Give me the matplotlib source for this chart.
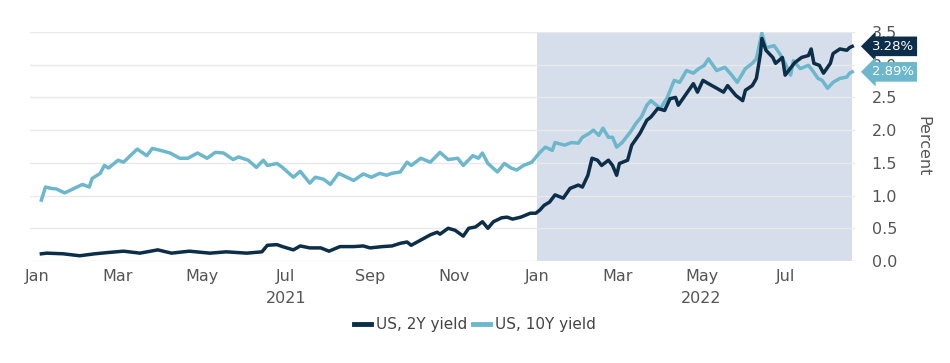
import pandas as pd
import matplotlib
matplotlib.use("Agg")
import matplotlib.pyplot as plt
import matplotlib.dates as mdates
import matplotlib.transforms as mtransforms

# US 10Y yield, percent
dates_10y = [
    "2021-01-04", "2021-01-07", "2021-01-11", "2021-01-15", "2021-01-21", "2021-01-27",
    "2021-02-03", "2021-02-08", "2021-02-10", "2021-02-16", "2021-02-19", "2021-02-22",
    "2021-03-01", "2021-03-05", "2021-03-10", "2021-03-15", "2021-03-22", "2021-03-26",
    "2021-04-01", "2021-04-08", "2021-04-15", "2021-04-21", "2021-04-28", "2021-05-05",
    "2021-05-11", "2021-05-17", "2021-05-24", "2021-05-28", "2021-06-04", "2021-06-10",
    "2021-06-15", "2021-06-18", "2021-06-25", "2021-06-29", "2021-07-07", "2021-07-12",
    "2021-07-19", "2021-07-23", "2021-07-29", "2021-08-03", "2021-08-09", "2021-08-16",
    "2021-08-20", "2021-08-27", "2021-09-02", "2021-09-08", "2021-09-13", "2021-09-17",
    "2021-09-23", "2021-09-28", "2021-10-01", "2021-10-08", "2021-10-15", "2021-10-22",
    "2021-10-28", "2021-11-04", "2021-11-08", "2021-11-15", "2021-11-19", "2021-11-22",
    "2021-11-26", "2021-12-03", "2021-12-08", "2021-12-13", "2021-12-17", "2021-12-22",
    "2021-12-28", "2022-01-03", "2022-01-07", "2022-01-12", "2022-01-14", "2022-01-21",
    "2022-01-26", "2022-01-31", "2022-02-03", "2022-02-08", "2022-02-11", "2022-02-15",
    "2022-02-18", "2022-02-22", "2022-02-25", "2022-02-28", "2022-03-04", "2022-03-10",
    "2022-03-14", "2022-03-18", "2022-03-22", "2022-03-25", "2022-04-01", "2022-04-06",
    "2022-04-11", "2022-04-15", "2022-04-20", "2022-04-25", "2022-04-29", "2022-05-03",
    "2022-05-06", "2022-05-12", "2022-05-18", "2022-05-23", "2022-05-27", "2022-06-02",
    "2022-06-07", "2022-06-10", "2022-06-14", "2022-06-17", "2022-06-23", "2022-06-27",
    "2022-07-01", "2022-07-05", "2022-07-07", "2022-07-12", "2022-07-18", "2022-07-21",
    "2022-07-25", "2022-07-28", "2022-08-01", "2022-08-05", "2022-08-10", "2022-08-15",
    "2022-08-17", "2022-08-19",
]
yield_10y = [
    0.93, 1.13, 1.11, 1.10, 1.04, 1.10,
    1.17, 1.13, 1.26, 1.34, 1.46, 1.42,
    1.54, 1.51, 1.61, 1.71, 1.61, 1.72,
    1.69, 1.65, 1.57, 1.57, 1.65, 1.57,
    1.66, 1.65, 1.55, 1.59, 1.54, 1.43,
    1.54, 1.46, 1.49, 1.43, 1.28, 1.37,
    1.19, 1.28, 1.25, 1.17, 1.34, 1.27,
    1.23, 1.33, 1.28, 1.34, 1.31, 1.34,
    1.36, 1.51, 1.46, 1.57, 1.51, 1.66,
    1.55, 1.57, 1.46, 1.61, 1.57, 1.65,
    1.49, 1.36, 1.49, 1.42, 1.39, 1.46,
    1.51, 1.66, 1.74, 1.69, 1.81, 1.77,
    1.81, 1.80, 1.89, 1.95, 2.00, 1.92,
    2.03, 1.89, 1.89, 1.74, 1.81, 1.97,
    2.10, 2.20, 2.38, 2.45, 2.33, 2.50,
    2.76, 2.73, 2.91, 2.87, 2.94, 2.99,
    3.09, 2.91, 2.96, 2.84, 2.73, 2.94,
    3.02, 3.09, 3.48, 3.26, 3.29, 3.17,
    3.02, 2.84, 3.06, 2.94, 2.99, 2.91,
    2.79, 2.76, 2.64, 2.73, 2.79, 2.81,
    2.87, 2.89,
]

# US 2Y yield, percent
dates_2y = [
    "2021-01-04", "2021-01-08", "2021-01-20", "2021-02-01", "2021-02-12", "2021-02-22",
    "2021-03-05", "2021-03-17", "2021-03-30", "2021-04-09", "2021-04-22", "2021-05-07",
    "2021-05-19", "2021-06-03", "2021-06-14", "2021-06-18", "2021-06-25", "2021-06-29",
    "2021-07-07", "2021-07-12", "2021-07-19", "2021-07-27", "2021-08-02", "2021-08-10",
    "2021-08-20", "2021-08-27", "2021-09-01", "2021-09-10", "2021-09-17", "2021-09-23",
    "2021-09-28", "2021-10-01", "2021-10-08", "2021-10-15", "2021-10-20", "2021-10-22",
    "2021-10-28", "2021-11-02", "2021-11-08", "2021-11-12", "2021-11-17", "2021-11-22",
    "2021-11-26", "2021-11-30", "2021-12-06", "2021-12-10", "2021-12-14", "2021-12-20",
    "2021-12-27", "2021-12-31", "2022-01-03", "2022-01-06", "2022-01-10", "2022-01-14",
    "2022-01-20", "2022-01-25", "2022-01-31", "2022-02-03", "2022-02-07", "2022-02-10",
    "2022-02-14", "2022-02-17", "2022-02-22", "2022-02-25", "2022-02-28", "2022-03-02",
    "2022-03-08", "2022-03-11", "2022-03-17", "2022-03-22", "2022-03-25", "2022-03-30",
    "2022-04-04", "2022-04-08", "2022-04-12", "2022-04-14", "2022-04-19", "2022-04-25",
    "2022-04-28", "2022-05-02", "2022-05-06", "2022-05-12", "2022-05-17", "2022-05-20",
    "2022-05-26", "2022-05-31", "2022-06-02", "2022-06-07", "2022-06-10", "2022-06-13",
    "2022-06-14", "2022-06-17", "2022-06-22", "2022-06-24", "2022-06-29", "2022-07-01",
    "2022-07-08", "2022-07-13", "2022-07-18", "2022-07-20", "2022-07-22", "2022-07-26",
    "2022-07-29", "2022-08-03", "2022-08-05", "2022-08-10", "2022-08-15", "2022-08-17",
    "2022-08-19",
]
yield_2y = [
    0.11, 0.12, 0.11, 0.08, 0.11, 0.13,
    0.15, 0.12, 0.17, 0.12, 0.15, 0.12,
    0.14, 0.12, 0.14, 0.24, 0.25, 0.22,
    0.17, 0.23, 0.20, 0.20, 0.15, 0.22,
    0.22, 0.23, 0.20, 0.22, 0.23, 0.27,
    0.29, 0.24, 0.32, 0.40, 0.44, 0.41,
    0.50, 0.47, 0.38, 0.50, 0.52, 0.60,
    0.50, 0.60, 0.66, 0.67, 0.64, 0.67,
    0.73, 0.73, 0.78, 0.85, 0.90, 1.01,
    0.96, 1.11, 1.16, 1.13, 1.31, 1.57,
    1.54, 1.46, 1.54, 1.46, 1.31, 1.49,
    1.54, 1.77, 1.95, 2.15, 2.20, 2.33,
    2.30, 2.48, 2.50, 2.38, 2.53, 2.71,
    2.58, 2.76, 2.71, 2.64, 2.58, 2.68,
    2.53, 2.45, 2.61, 2.68, 2.79, 3.17,
    3.40, 3.22, 3.11, 3.02, 3.11, 2.84,
    3.03, 3.11, 3.14, 3.24, 3.02, 2.99,
    2.87, 3.02, 3.17, 3.24, 3.22, 3.26,
    3.28,
]

y_ticks = [0.0, 0.5, 1.0, 1.5, 2.0, 2.5, 3.0, 3.5]

dark = "#0c2e49"
light = "#6cb7cb"
grey = "#555555"

plt.rcParams["font.family"] = ["DejaVu Sans"]

d10 = pd.to_datetime(dates_10y)
d2 = pd.to_datetime(dates_2y)

fig = plt.figure(figsize=(9.5, 3.63), dpi=100)
ax = fig.add_axes([0.032, 0.281, 0.868, 0.631])

ax.axvspan(pd.Timestamp("2022-01-01"), d2[-1], color="#d5deea", zorder=0, lw=0)
for t in y_ticks:
    ax.axhline(t, color="#e9e9e9", lw=1, zorder=1)

ax.plot(d2, yield_2y, color=dark, lw=2.5, label="US, 2Y yield", zorder=3)
ax.plot(d10, yield_10y, color=light, lw=2.5, label="US, 10Y yield", zorder=2)

ax.set_xlim(pd.Timestamp("2020-12-27"), pd.Timestamp("2022-08-21"))
ax.set_ylim(0, 3.5)

ax.yaxis.tick_right()
ax.yaxis.set_label_position("right")
ax.set_yticks(y_ticks)
ax.set_yticklabels([f"{t:.1f}" for t in y_ticks])
ax.set_ylabel("Percent", rotation=270, labelpad=24, color=grey, fontsize=11.5)

ax.xaxis.set_major_locator(mdates.MonthLocator(bymonth=[1, 3, 5, 7, 9, 11]))
ax.xaxis.set_major_formatter(mdates.DateFormatter("%b"))
ax.tick_params(axis="both", length=0, labelcolor=grey, labelsize=11.5)
ax.tick_params(axis="x", pad=6)
ax.tick_params(axis="y", pad=12)
for s in ax.spines.values():
    s.set_visible(False)

trans = mtransforms.blended_transform_factory(ax.transData, ax.transAxes)
ax.text(pd.Timestamp("2021-07-02"), -0.13, "2021", transform=trans,
        ha="center", va="top", color=grey, fontsize=11.5)
ax.text(pd.Timestamp("2022-05-01"), -0.13, "2022", transform=trans,
        ha="center", va="top", color=grey, fontsize=11.5)

# end-value tags
for val, col in [(yield_2y[-1], dark), (yield_10y[-1], light)]:
    ax.annotate(f"{val:.2f}%", xy=(1.0, val), xycoords=("axes fraction", "data"),
                xytext=(12, 0), textcoords="offset points", ha="left", va="center",
                color="white", fontsize=9.5, zorder=5, annotation_clip=False,
                bbox=dict(boxstyle="larrow,pad=0.25", fc=col, ec="none"))

fig.legend(loc="center", bbox_to_anchor=(0.5, 0.105), ncol=2, frameon=False,
           handlelength=1.1, handletextpad=0.3, columnspacing=0.4,
           fontsize=11, labelcolor="#444444")
for line in fig.legends[0].get_lines():
    line.set_linewidth(3.5)

fig.savefig("out.png", dpi=100)
